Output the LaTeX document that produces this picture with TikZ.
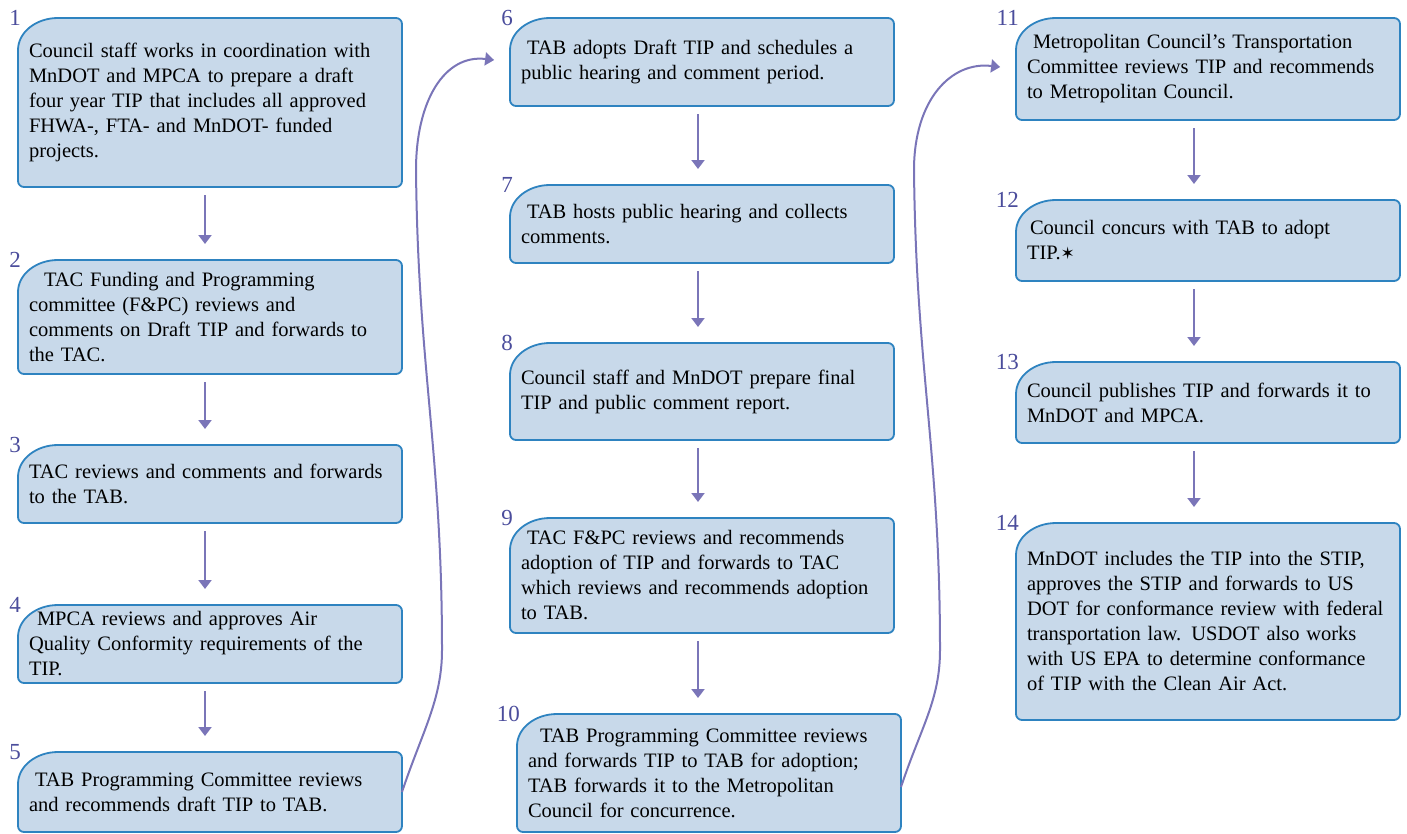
\documentclass[tikz,border=0pt]{standalone}
\usepackage{fontspec}
\setmainfont{Liberation Serif}
\newfontfamily\symfont{DejaVu Sans}
\usetikzlibrary{calc,arrows.meta}
\pgfdeclarelayer{background}
\pgfsetlayers{background,main}
\definecolor{stepfill}{HTML}{C8D9EA}
\definecolor{stepedge}{HTML}{2E83C0}
\definecolor{stepnumc}{HTML}{4B4D9C}
\definecolor{flowc}{HTML}{7A75B8}
\def\stepframe(#1){\draw[stepline] ([yshift=-32]#1.north west) arc[start angle=180,end angle=90,x radius=40,y radius=32] -- ([xshift=-6]#1.north east) arc[start angle=90,end angle=0,radius=6] -- ([yshift=6]#1.south east) arc[start angle=0,end angle=-90,radius=6] -- ([xshift=6]#1.south west) arc[start angle=270,end angle=180,radius=6] -- cycle;}
\tikzset{
  stepbox/.style={anchor=north west, minimum width=384, text width=362, inner xsep=11, inner ysep=0, outer sep=0, align=left, font=\fontsize{20.5}{25}\selectfont},
  stepline/.style={draw=stepedge, fill=stepfill, line width=1.8pt},
  stepnum/.style={anchor=north east, text=stepnumc, inner sep=0, font=\fontsize{23}{23}\selectfont},
  flow/.style={draw=flowc, line width=2pt, -{Triangle[width=13pt,length=9pt]}, shorten <=8pt, shorten >=16pt},
  bigflow/.style={flow, shorten <=0pt}
}

\begin{document}
\begin{tikzpicture}[x=1pt,y=1pt]
			%%%%% START %%%%%
			\useasboundingbox (0,0) rectangle (1407,-833);
			
			% left column
			\node[stepbox, minimum height=169] (s1) at (18,-18) {Council staff works in coordination with\\ MnDOT and MPCA to prepare a draft\\ four year TIP that includes all approved\\ FHWA-, FTA- and MnDOT- funded\\ projects.};
			\node[stepbox, minimum height=114] (s2) at (18,-260) {\hspace*{15pt}TAC Funding and Programming\\ committee (F\&PC) reviews and\\ comments on Draft TIP and forwards to\\ the TAC.};
			\node[stepbox, minimum height=78] (s3) at (18,-445) {TAC reviews and comments and forwards\\ to the TAB.};
			\node[stepbox, minimum height=78] (s4) at (18,-605) {\hspace*{8pt}MPCA reviews and approves Air\\ Quality Conformity requirements of the\\ TIP.};
			\node[stepbox, minimum height=80] (s5) at (18,-752) {\hspace*{6pt}TAB Programming Committee reviews\\ and recommends draft TIP to TAB.};
			
			% middle column
			\node[stepbox, minimum height=88] (s6) at (510,-18) {\hspace*{6pt}TAB adopts Draft TIP and schedules a\\ public hearing and comment period.};
			\node[stepbox, minimum height=78] (s7) at (510,-185) {\hspace*{6pt}TAB hosts public hearing and collects\\ comments.};
			\node[stepbox, minimum height=97] (s8) at (510,-343) {Council staff and MnDOT prepare final\\ TIP and public comment report.};
			\node[stepbox, minimum height=115] (s9) at (510,-518) {\hspace*{6pt}TAC F\&PC reviews and recommends\\ adoption of TIP and forwards to TAC\\ which reviews and recommends adoption\\ to TAB.};
			\node[stepbox, minimum height=118] (s10) at (517,-714) {\hspace*{12pt}TAB Programming Committee reviews\\ and forwards TIP to TAB for adoption;\\ TAB forwards it to the Metropolitan\\ Council for concurrence.};
			
			% right column
			\node[stepbox, minimum height=102] (s11) at (1016,-18) {\hspace*{6pt}Metropolitan Council’s Transportation\\ Committee reviews TIP and recommends\\ to Metropolitan Council.};
			\node[stepbox, minimum height=81] (s12) at (1016,-200) {\hspace*{3pt}Council concurs with TAB to adopt\\ TIP.{\symfont\fontsize{17}{17}\selectfont ✶}};
			\node[stepbox, minimum height=81] (s13) at (1016,-362) {Council publishes TIP and forwards it to\\ MnDOT and MPCA.};
			\node[stepbox, minimum height=197] (s14) at (1016,-523) {MnDOT includes the TIP into the STIP,\\ approves the STIP and forwards to US\\ DOT for conformance review with federal\\ transportation law. USDOT also works\\ with US EPA to determine conformance\\ of TIP with the Clean Air Act.};
			
			\begin{pgfonlayer}{background}
			\foreach \s in {s1,s2,s3,s4,s5,s6,s7,s8,s9,s10,s11,s12,s13,s14} {\stepframe(\s)}
			\end{pgfonlayer}
			
			% numbers
			\foreach \s/\n in {s1/1,s2/2,s3/3,s4/4,s5/5,s6/6,s7/7,s8/8,s9/9,s10/10,s11/11,s12/12,s13/13,s14/14}
				\node[stepnum] (n\n) at ([shift={(3,8)}]\s.north west) {\n};
			
			% arrows down the columns
			\draw[flow] ([xshift=-5]s1.south) -- ([xshift=-5]s2.north);
			\draw[flow] ([xshift=-5]s2.south) -- ([xshift=-5]s3.north);
			\draw[flow] ([xshift=-5]s3.south) -- ([xshift=-5]s4.north);
			\draw[flow] ([xshift=-5]s4.south) -- ([xshift=-5]s5.north);
			
			\draw[flow] ([xshift=-4]s6.south) -- ([xshift=-4]s7.north);
			\draw[flow] ([xshift=-4]s7.south) -- ([xshift=-4]s8.north);
			\draw[flow] ([xshift=-4]s8.south) -- ([xshift=-4]s9.north);
			\draw[flow] ([xshift=-4]s9.south) -- ([xshift=-4]s9.south |- s10.north);
			
			\draw[flow] ([xshift=-14]s11.south) -- ([xshift=-14]s12.north);
			\draw[flow] ([xshift=-14]s12.south) -- ([xshift=-14]s13.north);
			\draw[flow] ([xshift=-14]s13.south) -- ([xshift=-14]s14.north);
			
			% long arrows to the next column
			\coordinate (bend5a) at (442,-650);
			\coordinate (bend5b) at (416,-170);
			\draw[bigflow] (s5.east) .. controls +(20,60) and +(0,-50) .. (bend5a) .. controls +(0,200) and +(2,-200) .. (bend5b) .. controls +(0,70) and +(-65,8) .. (s6.west);
			
			\coordinate (bend10a) at (940,-650);
			\coordinate (bend10b) at (914,-170);
			\draw[bigflow] ([yshift=-14]s10.east) .. controls +(20,60) and +(0,-50) .. (bend10a) .. controls +(0,200) and +(2,-200) .. (bend10b) .. controls +(0,70) and +(-65,8) .. (s11.west);
			
			%%%%% END %%%%%
		\end{tikzpicture}
\end{document}
